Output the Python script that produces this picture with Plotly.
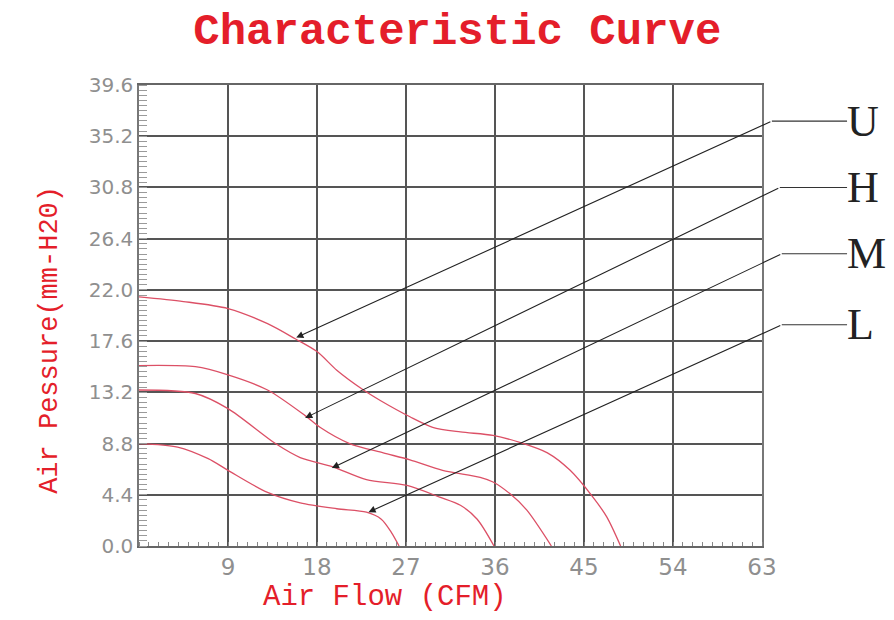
import plotly.graph_objects as go

# ---- data ----
u_flow = [0, 4.5, 9, 13, 15.8, 18, 20, 22.7, 24.4, 27.4, 29.7, 32.5, 35.8, 38.5, 41.3, 43.6, 45.9, 47.3, 48.7]
u_pres = [21.4, 21.0, 20.4, 19.1, 17.8, 16.7, 15.1, 13.4, 12.5, 11.1, 10.2, 9.8, 9.5, 8.9, 8.0, 6.5, 4.2, 2.5, 0.0]

h_flow = [0, 5.7, 9, 13, 16.8, 18.3, 21.3, 24.7, 27.4, 30.7, 34.5, 35.8, 37.5, 39.2, 41.7]
h_pres = [15.5, 15.4, 14.7, 13.4, 11.2, 10.2, 8.8, 8.0, 7.4, 6.5, 5.9, 5.5, 4.5, 3.1, 0.0]

m_flow = [0, 5.7, 9, 13.8, 16.3, 19.6, 23, 27.1, 30.4, 32.5, 34.2, 35.9]
m_pres = [13.4, 13.1, 11.8, 8.8, 7.6, 6.8, 5.7, 5.2, 4.2, 3.5, 2.3, 0.0]

l_flow = [0, 3.9, 7, 9, 13, 16.3, 20, 23, 24.5, 25.5, 26.3]
l_pres = [8.8, 8.5, 7.5, 6.5, 4.6, 3.7, 3.2, 2.9, 2.3, 1.2, 0.0]

speed_labels = ["U", "H", "M", "L"]
tip_flow = [15.9, 16.8, 19.5, 23.2]
tip_pres = [17.9, 11.0, 6.7, 2.9]
knee_flow = [64.0, 64.8, 65.0, 65.0]
knee_pres = [36.5, 30.8, 25.1, 19.0]
label_flow = 71.6

x_ticks = [9, 18, 27, 36, 45, 54, 63]
y_ticks = [0.0, 4.4, 8.8, 13.2, 17.6, 22.0, 26.4, 30.8, 35.2, 39.6]
x_max = 63
y_max = 39.6

curve_color = "#dc5066"
red = "#e41e2a"

fig = go.Figure()
for fx, py in [(u_flow, u_pres), (h_flow, h_pres), (m_flow, m_pres), (l_flow, l_pres)]:
    fig.add_trace(go.Scatter(x=fx, y=py, mode="lines",
                             line=dict(color=curve_color, width=1.3, shape="spline", smoothing=0.8),
                             showlegend=False, hoverinfo="skip"))

annotations = []
shapes = []
for lab, tx, ty, kx, ky in zip(speed_labels, tip_flow, tip_pres, knee_flow, knee_pres):
    annotations.append(dict(x=tx, y=ty, xref="x", yref="y", axref="x", ayref="y",
                            ax=kx, ay=ky, text="", showarrow=True, arrowhead=2,
                            arrowsize=1.3, arrowwidth=1.1, arrowcolor="#222", standoff=0))
    shapes.append(dict(type="line", xref="paper", yref="y", x0=kx / x_max, x1=label_flow / x_max,
                       y0=ky, y1=ky, line=dict(color="#333", width=1.1)))
    annotations.append(dict(x=label_flow / x_max, y=ky, xref="paper", yref="y", text=lab,
                            showarrow=False, xanchor="left", yanchor="middle", xshift=-2,
                            font=dict(family="Liberation Serif", size=44, color="#222")))

annotations.append(dict(x=0.395, y=-0.112, xref="paper", yref="paper", text="Air Flow (CFM)",
                        showarrow=False, xanchor="center", yanchor="middle",
                        font=dict(family="Liberation Mono", size=29, color=red)))
annotations.append(dict(x=-0.143, y=0.447, xref="paper", yref="paper", text="Air Pessure(mm-H20)",
                        showarrow=False, xanchor="center", yanchor="middle", textangle=-90,
                        font=dict(family="Liberation Mono", size=27, color=red)))

fig.update_layout(
    width=886, height=612,
    margin=dict(l=131, r=132, t=77, b=74),
    paper_bgcolor="white", plot_bgcolor="white",
    title=dict(text="<b>Characteristic Curve</b>", x=0.511, xref="paper", xanchor="center",
               y=0.966, yanchor="middle",
               font=dict(family="Liberation Mono", size=44, color=red)),
    annotations=annotations, shapes=shapes,
    xaxis=dict(range=[0, x_max], tickvals=x_ticks, ticktext=[str(v) for v in x_ticks],
               showgrid=True, gridcolor="#555", gridwidth=1.6,
               showline=True, linecolor="#666", linewidth=1.5, mirror=True,
               ticks="", zeroline=False,
               tickfont=dict(family="DejaVu Sans", size=23, color="#8f8f8f"),
               minor=dict(dtick=1, tick0=0, ticks="inside", ticklen=4, tickcolor="#888", showgrid=False)),
    yaxis=dict(range=[0, y_max], tickvals=y_ticks, ticktext=[f"{v:.1f}" for v in y_ticks],
               showgrid=True, gridcolor="#555", gridwidth=1.6,
               showline=True, linecolor="#777", linewidth=1.5, mirror=True,
               ticks="", zeroline=False,
               tickfont=dict(family="DejaVu Sans", size=20, color="#8f8f8f"),
               minor=dict(dtick=0.44, tick0=0, ticks="inside", ticklen=8, tickcolor="#9a9a9a", showgrid=False)),
)

fig.write_html("out.html")
